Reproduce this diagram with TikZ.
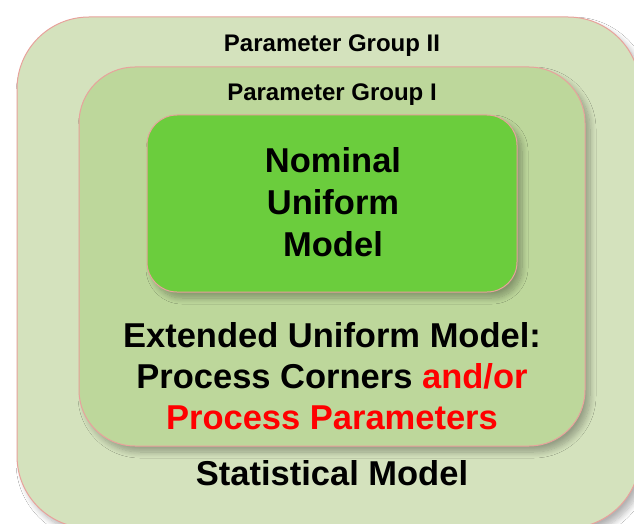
\documentclass[tikz,border=0pt]{standalone}
\usepackage{fontspec}
\setmainfont{Liberation Sans}
\usetikzlibrary{shadows.blur}
\definecolor{outerfill}{HTML}{D4E2BD}
\definecolor{midfill}{HTML}{BDD79B}
\definecolor{innerfill}{HTML}{6BCD3D}
\definecolor{edgepink}{HTML}{E8A29C}
\definecolor{redtext}{HTML}{FF0000}
\tikzset{
  panel/.style={draw=edgepink, line width=1pt,
    blur shadow={shadow xshift=5pt, shadow yshift=-6pt, shadow blur steps=10, shadow blur radius=6pt, shadow blur extra rounding=4pt, shadow opacity=30}},
  smalllabel/.style={anchor=base, font=\bfseries\fontsize{24}{28}\selectfont, inner sep=0pt},
  biglabel/.style={anchor=base, font=\bfseries\fontsize{34.5}{41}\selectfont, inner sep=0pt},
}
\begin{document}
\begin{tikzpicture}[x=1pt,y=-1pt]
\useasboundingbox (0,0) rectangle (634,524);
\fill[white] (0,0) rectangle (634,524);
% outer
\path[panel, fill=outerfill, rounded corners=72pt] (17,17) rectangle (640,528);
% middle
\path[panel, fill=midfill, rounded corners=56pt] (79,67) rectangle (585,446);
% inner
\path[panel, fill=innerfill, rounded corners=30pt] (147,115) rectangle (517,292);
\node[smalllabel] (pg2) at (332,52) {Parameter Group II};
\node[smalllabel] (pg1) at (332,101) {Parameter Group I};
\node[biglabel] (n1) at (333,172) {Nominal};
\node[biglabel] (n2) at (333,214) {Uniform};
\node[biglabel] (n3) at (333,256) {Model};
\node[biglabel] (e1) at (332,347) {Extended Uniform Model:};
\node[biglabel] (e2) at (332,388) {Process Corners \textcolor{redtext}{and/or}};
\node[biglabel, text=redtext] (e3) at (332,429) {Process Parameters};
\node[biglabel] (st) at (332,485) {Statistical Model};
\end{tikzpicture}
\end{document}
